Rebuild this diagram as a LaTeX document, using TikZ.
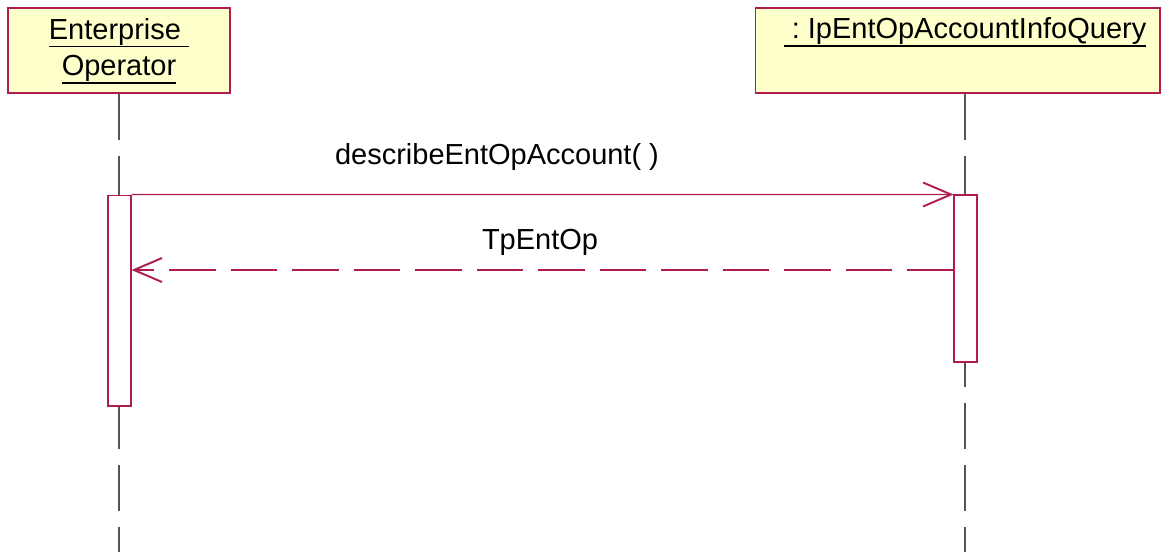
\documentclass[tikz,border=0pt]{standalone}
\usepackage{fontspec}
\setmainfont{Liberation Sans}
\usetikzlibrary{arrows.meta, positioning}

\definecolor{umlred}{RGB}{176,28,76}
\definecolor{umlfill}{RGB}{255,255,204}
\definecolor{lifegray}{RGB}{85,85,85}

% underlined object name
\newcommand{\objul}[1]{\leavevmode\vtop{\hbox{\vphantom{p}#1}\kern0.3pt\hrule height 0.85pt}}

\begin{document}
\begin{tikzpicture}[
    x=0.02cm, y=-0.02cm,
    font=\fontsize{16.5}{21}\selectfont,
    objbox/.style={draw=umlred, fill=umlfill, line width=0.6pt, inner sep=0pt},
    actbox/.style={draw=umlred, fill=white, line width=0.6pt, inner sep=0pt, minimum width=0.46cm},
    lifeline/.style={draw=lifegray, line width=0.6pt, dash pattern=on 0.92cm off 0.32cm},
    msg/.style={draw=umlred, line width=0.6pt, -{Straight Barb[length=0.56cm, width=0.48cm, line width=1.1pt]}},
    retmsg/.style={msg, dash pattern=on 0.93cm off 0.3cm},
    lbl/.style={inner sep=0pt, align=center}
]
\useasboundingbox (0,0) rectangle (1168,552);

% objects
\node[objbox, minimum width=4.44cm, minimum height=1.7cm] (entop) at (119,50.5) {};
\node[lbl] (entop_name) at (119,51) {\objul{Enterprise\ }\\\objul{Operator}};
\node[objbox, minimum width=8.1cm, minimum height=1.7cm] (query) at (957.5,50.5) {};
\node[lbl] (query_name) at (965,32) {\objul{\ :\ IpEntOpAccountInfoQuery}};

% lifelines
\coordinate (entop_end) at (119,552);
\coordinate (query_end) at (965,552);
\draw[lifeline] (entop.south) -- (entop_end);
\draw[lifeline] (query.south -| query_end) -- (query_end);

% activations
\node[actbox, minimum height=4.22cm] (act_entop) at (119.5,300.5) {};
\node[actbox, minimum height=3.34cm] (act_query) at (965.5,278.5) {};

% messages
\coordinate (ret) at (0,270);
\draw[msg] (act_entop.north east) -- (act_query.north west);
\node[lbl] (call_lbl) at (497,157) {describeEntOpAccount( )};
\draw[retmsg] (act_query.west |- ret) -- (act_entop.east |- ret);
\node[lbl] (ret_lbl) at (540,242) {TpEntOp};

\end{tikzpicture}
\end{document}
